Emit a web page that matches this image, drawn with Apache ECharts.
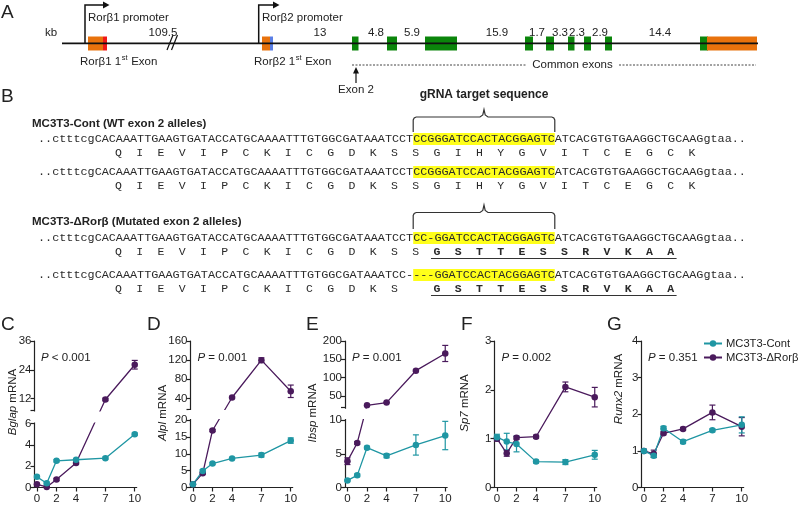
<!DOCTYPE html>
<html><head><meta charset="utf-8">
<script src="https://cdn.jsdelivr.net/npm/echarts@6/dist/echarts.min.js"></script>
<style>html,body{margin:0;padding:0;background:#fff}#c{width:800px;height:506px}</style>
</head><body><div id="c"></div>
<script>
// ---------------- DATA ----------------
const days = [0, 1, 2, 4, 7, 10];
const xTickDays = [0, 2, 4, 7, 10];
const seriesNames = ['MC3T3-Cont', 'MC3T3-ΔRorβ'];

// C  Bglap
const bglapCont = [1.0, 0.4, 2.5, 2.6, 2.75, 5.0];
const bglapContErr = [0.1, 0.1, 0.1, 0.1, 0.1, 0.1];
const bglapKO = [0.3, 0.05, 0.75, 2.3, 11.6, 26.1];
const bglapKOErr = [0.05, 0.05, 0.1, 0.1, 0.5, 1.8];
const bglapLow = [0, 6], bglapHigh = [7, 36];
const bglapLowTicks = [0, 2, 4, 6], bglapHighTicks = [12, 24, 36];
// D  Alpl
const alplCont = [1.0, 4.9, 7.1, 8.6, 9.6, 13.9];
const alplContErr = [0.2, 0.4, 0.3, 0.3, 0.6, 0.8];
const alplKO = [1.0, 4.2, 16.9, 42, 120, 55];
const alplKOErr = [0.2, 0.3, 0.3, 2, 5, 13];
const alplLow = [0, 20], alplHigh = [18, 160];
const alplLowTicks = [0, 5, 10, 15, 20], alplHighTicks = [40, 80, 120, 160];
// E  Ibsp
const ibspCont = [1.05, 1.8, 5.9, 4.7, 6.3, 7.7];
const ibspContErr = [0.1, 0.2, 0.2, 0.3, 1.5, 2.1];
const ibspKO = [3.9, 6.6, 24.5, 32, 119, 166];
const ibspKOErr = [0.5, 0.2, 1, 1, 2, 22];
const ibspLow = [0, 10], ibspHigh = [18, 200];
const ibspLowTicks = [0, 5, 10], ibspHighTicks = [50, 100, 150, 200];
// F  Sp7
const sp7Cont = [1.03, 0.94, 0.89, 0.53, 0.52, 0.67];
const sp7ContErr = [0.06, 0.17, 0.16, 0.03, 0.05, 0.09];
const sp7KO = [1.0, 0.70, 1.02, 1.04, 2.06, 1.85];
const sp7KOErr = [0.05, 0.06, 0.03, 0.03, 0.1, 0.2];
const sp7Range = [0, 3], sp7Ticks = [0, 1, 2, 3];
// G  Runx2
const runx2Cont = [1.0, 0.87, 1.62, 1.25, 1.56, 1.71];
const runx2ContErr = [0.04, 0.05, 0.05, 0.05, 0.04, 0.22];
const runx2KO = [1.0, 0.92, 1.48, 1.6, 2.05, 1.66];
const runx2KOErr = [0.04, 0.1, 0.04, 0.04, 0.2, 0.25];
const runx2Range = [0, 4], runx2Ticks = [0, 1, 2, 3, 4];

const pValues = ['< 0.001', '= 0.001', '= 0.001', '= 0.002', '= 0.351'];
const geneNames = ['Bglap', 'Alpl', 'Ibsp', 'Sp7', 'Runx2'];
const panelLetters = ['C', 'D', 'E', 'F', 'G'];

// Panel B sequences
const seqWT = ['..ctttcgCACAAATTGAAGTGATACCATGCAAAATTTGTGGCGATAAATCCT', 'CCGGGATCCACTACGGAGTC', 'ATCACGTGTGAAGGCTGCAAGgtaa..'];
const seqMut1 = ['..ctttcgCACAAATTGAAGTGATACCATGCAAAATTTGTGGCGATAAATCCT', 'CC-GGATCCACTACGGAGTC', 'ATCACGTGTGAAGGCTGCAAGgtaa..'];
const seqMut2 = ['..ctttcgCACAAATTGAAGTGATACCATGCAAAATTTGTGGCGATAAATCC-', '---GGATCCACTACGGAGTC', 'ATCACGTGTGAAGGCTGCAAGgtaa..'];
const aaWT = 'QIEVIPCKICGDKSSGIHYGVITCEGCK'.split('');
const aaMut1Plain = 'QIEVIPCKICGDKSS'.split('');
const aaMut2Plain = 'QIEVIPCKICGDKS'.split('');
const aaMutBold = 'GSTTESSRVKAA'.split('');

// Panel A distances (kb)
const kbLabels = ['109.5', '13', '4.8', '5.9', '15.9', '1.7', '3.3', '2.3', '2.9', '14.4'];

// ---------------- STYLE / LAYOUT ----------------
const SANS = '"Liberation Sans", Arial, sans-serif';
const MONO = '"Liberation Mono", "Courier New", monospace';
const TXT = '#222';
const AX = '#222';
const CONT = '#1F96A3';
const KO = '#4A1A5C';
const ORANGE = '#E8720C', RED = '#F01818', BLUE = '#5A7FE6', GREEN = '#0B850B';

const ctx = document.createElement('canvas').getContext('2d');
function tw(t, font) { ctx.font = font; return ctx.measureText(t).width; }

const G = [];
function txt(x, y, text, o = {}) {
  G.push({ type: 'text', x, y, z: o.z || 50, rotation: o.rot || 0, silent: true,
    style: { text, fill: o.fill || TXT, fontSize: o.size || 11.5, fontFamily: o.family || SANS,
      fontWeight: o.weight || 'normal', fontStyle: o.style || 'normal',
      textAlign: o.align || 'left', textVerticalAlign: o.va || 'middle', rich: o.rich } });
}
function ln(x1, y1, x2, y2, o = {}) {
  G.push({ type: 'line', z: o.z || 50, silent: true, shape: { x1, y1, x2, y2 },
    style: { stroke: o.stroke || '#111', lineWidth: o.w || 1, lineDash: o.dash || null } });
}
function rc(x, y, w, h, fill, z) {
  G.push({ type: 'rect', z: z || 40, silent: true, shape: { x, y, width: w, height: h }, style: { fill } });
}
function pl(points, o = {}) {
  G.push({ type: 'polyline', z: o.z || 50, silent: true, shape: { points }, style: { stroke: o.stroke || '#111', lineWidth: o.w || 1.2, fill: null } });
}
function pg(points, fill) {
  G.push({ type: 'polygon', z: 50, silent: true, shape: { points }, style: { fill: fill || '#111' } });
}

// ---------------- PANEL A ----------------
txt(1, 13, 'A', { size: 19 });
ln(62, 43.3, 758, 43.3, { w: 1.8 });
ln(167, 50, 173, 35, { w: 1.2 });
ln(171.5, 50, 177.5, 35, { w: 1.2 });
txt(45, 33, 'kb');
rc(88, 36.5, 15, 14, ORANGE); rc(103, 36.5, 4, 14, RED);
rc(262, 36.5, 8, 14, ORANGE); rc(270, 36.5, 3, 14, BLUE);
[[352, 6.5], [387, 10], [425, 32], [525, 8], [546, 8], [568, 6.5], [584, 7], [605, 7], [700, 8]].forEach(e => rc(e[0], 36.5, e[1], 14, GREEN));
rc(707, 36.5, 50, 14, ORANGE);
pl([[85, 43], [85, 5], [104, 5]], { w: 1.5 }); pg([[103, 1.5], [109.5, 5], [103, 8.5]]);
txt(88, 18, 'Rorβ1 promoter');
pl([[258.7, 43], [258.7, 5], [274, 5]], { w: 1.5 }); pg([[273, 1.5], [279.5, 5], [273, 8.5]]);
txt(262, 18, 'Rorβ2 promoter');
[163, 320, 376, 412, 497, 537, 560, 577, 600, 660].forEach((x, i) => txt(x, 33, kbLabels[i], { align: 'center' }));
function exonLabel(x, y, pre) {
  const f = '11.5px ' + SANS;
  txt(x, y, pre);
  const w1 = tw(pre, f);
  txt(x + w1 + 0.5, y - 4, 'st', { size: 7.5 });
  const w2 = tw('st', '7.5px ' + SANS);
  txt(x + w1 + w2 + 1, y, ' Exon');
}
exonLabel(80, 62, 'Rorβ1 1');
exonLabel(254, 62, 'Rorβ2 1');
ln(352, 65, 526, 65, { w: 1, dash: [2, 1.5], stroke: '#444' });
txt(572.5, 65, 'Common exons', { align: 'center' });
ln(619, 65, 756, 65, { w: 1, dash: [2, 1.5], stroke: '#444' });
ln(356, 83, 356, 71, { w: 1.2 }); pg([[353, 73.5], [356, 67], [359, 73.5]]);
txt(356, 90, 'Exon 2', { align: 'center' });

// ---------------- PANEL B ----------------
txt(1, 97, 'B', { size: 19 });
const MONO_SIZE = 11.8;
const monoFont = MONO_SIZE + 'px ' + MONO;
const SEQ_X = 38;
const cw = tw('A', monoFont);
function brace(x1, x2, yPeak, yBar, yEnd) {
  const xc = (x1 + x2) / 2;
  pl([[x1, yEnd], [x1, yBar + 3], [x1 + 1, yBar + 0.9], [x1 + 3, yBar], [xc - 4, yBar], [xc - 1.2, yBar - 2], [xc, yPeak],
      [xc + 1.2, yBar - 2], [xc + 4, yBar], [x2 - 3, yBar], [x2 - 1, yBar + 0.9], [x2, yBar + 3], [x2, yEnd]], { w: 1.2, stroke: '#333' });
}
function seqRow(y, parts) {
  const x1 = SEQ_X + tw(parts[0], monoFont);
  const x2 = x1 + tw(parts[1], monoFont);
  rc(x1, y - 6, x2 - x1, 12, '#FFFF1A', 30);
  txt(SEQ_X, y, parts[0], { family: MONO, size: MONO_SIZE, fill: '#2a2a2a' });
  txt(x1, y, parts[1], { family: MONO, size: MONO_SIZE, fill: '#2a2a2a' });
  txt(x2, y, parts[2], { family: MONO, size: MONO_SIZE, fill: '#2a2a2a' });
  return [x1, x2];
}
function aaX(k) { return SEQ_X + (11.5 + 3 * k) * cw - 1; }
function aaRow(y, letters, startK, bold) {
  letters.forEach((a, i) => txt(aaX(startK + i), y, a, { family: MONO, size: 11.5, align: 'center', fill: '#2a2a2a', weight: bold ? 'bold' : 'normal' }));
}
const hl = seqRow(139, seqWT);
txt((hl[0] + hl[1]) / 2, 95, 'gRNA target sequence', { weight: 'bold', size: 12, align: 'center' });
brace(hl[0], hl[1], 109.5, 117, 132);
txt(32, 124, 'MC3T3-Cont (WT exon 2 alleles)', { weight: 'bold', size: 11.5 });
aaRow(153, aaWT, 0, false);
seqRow(172, seqWT);
aaRow(186, aaWT, 0, false);

txt(32, 222, 'MC3T3-ΔRorβ (Mutated exon 2 alleles)', { weight: 'bold', size: 11.5 });
brace(hl[0], hl[1], 205, 212.5, 229);
seqRow(238, seqMut1);
aaRow(252, aaMut1Plain, 0, false);
aaRow(252, aaMutBold, 15, true);
ln(aaX(15) - 6, 258.5, aaX(26) + 6, 258.5, { w: 1.2, stroke: '#333' });
seqRow(275, seqMut2);
aaRow(289, aaMut2Plain, 0, false);
aaRow(289, aaMutBold, 15, true);
ln(aaX(15) - 6, 295.5, aaX(26) + 6, 295.5, { w: 1.2, stroke: '#333' });

// ---------------- CHARTS C-G ----------------
const PLOT_TOP = 341, PLOT_H = 146.5, PLOT_W = 102.2, X_MIN = -0.25, X_MAX = 10.2;
const panels = [
  { cont: bglapCont, contErr: bglapContErr, ko: bglapKO, koErr: bglapKOErr, low: bglapLow, high: bglapHigh, lowTicks: bglapLowTicks, highTicks: bglapHighTicks },
  { cont: alplCont, contErr: alplContErr, ko: alplKO, koErr: alplKOErr, low: alplLow, high: alplHigh, lowTicks: alplLowTicks, highTicks: alplHighTicks },
  { cont: ibspCont, contErr: ibspContErr, ko: ibspKO, koErr: ibspKOErr, low: ibspLow, high: ibspHigh, lowTicks: ibspLowTicks, highTicks: ibspHighTicks },
  { cont: sp7Cont, contErr: sp7ContErr, ko: sp7KO, koErr: sp7KOErr, low: sp7Range, high: null, lowTicks: sp7Ticks, highTicks: [] },
  { cont: runx2Cont, contErr: runx2ContErr, ko: runx2KO, koErr: runx2KOErr, low: runx2Range, high: null, lowTicks: runx2Ticks, highTicks: [] }
];
const geom = [
  { left: 34.5, loH: 64, gapH: 13, hiH: 69.5, letterX: 1, nameX: 13, nameY: 402, pX: 41 },
  { left: 190.5, loH: 67.5, gapH: 11, hiH: 68, letterX: 147, nameX: 163, nameY: 413, pX: 197.5 },
  { left: 345, loH: 67.5, gapH: 12.3, hiH: 66.7, letterX: 306, nameX: 313, nameY: 413, pX: 352 },
  { left: 494.5, loH: 146.5, gapH: 0, hiH: 0, letterX: 461, nameX: 465, nameY: 403, pX: 501.5 },
  { left: 641.5, loH: 146.5, gapH: 0, hiH: 0, letterX: 607, nameX: 619, nameY: 389, pX: 648 }
];
function makeMap(p, g) {
  return v => {
    if (!p.high || v <= p.low[1]) return (v - p.low[0]) / (p.low[1] - p.low[0]) * g.loH;
    return g.loH + g.gapH + (v - p.high[0]) / (p.high[1] - p.high[0]) * g.hiH;
  };
}
function errRender(color) {
  return (params, api) => {
    const x = api.value(0);
    const a = api.coord([x, api.value(1)]), b = api.coord([x, api.value(2)]);
    const c = 3;
    const st = { stroke: color, lineWidth: 1.2 };
    return { type: 'group', children: [
      { type: 'line', shape: { x1: a[0], y1: a[1], x2: b[0], y2: b[1] }, style: st },
      { type: 'line', shape: { x1: a[0] - c, y1: a[1], x2: a[0] + c, y2: a[1] }, style: st },
      { type: 'line', shape: { x1: b[0] - c, y1: b[1], x2: b[0] + c, y2: b[1] }, style: st }
    ] };
  };
}
const grids = [], xAxes = [], yAxes = [], series = [];
panels.forEach((p, i) => {
  const g = geom[i];
  const f = makeMap(p, g);
  grids.push({ left: g.left, top: PLOT_TOP, width: PLOT_W, height: PLOT_H });
  xAxes.push({ gridIndex: i, type: 'value', min: X_MIN, max: X_MAX,
    axisLine: { show: true, onZero: false, lineStyle: { color: AX, width: 1.2 } },
    axisTick: { show: true, length: 4, customValues: xTickDays, lineStyle: { color: AX, width: 1.2 } },
    axisLabel: { show: true, customValues: xTickDays, fontSize: 11.5, fontFamily: SANS, color: TXT, margin: 5 },
    splitLine: { show: false } });
  const labelMap = new Map();
  const labelVals = [];
  p.lowTicks.concat(p.highTicks).forEach(v => { const d = f(v); labelVals.push(d); labelMap.set(d.toFixed(2), String(v)); });
  const tickVals = labelVals.slice();
  if (p.high) tickVals.push(g.loH + g.gapH);
  yAxes.push({ gridIndex: i, type: 'value', min: 0, max: g.loH + g.gapH + g.hiH,
    axisLine: { show: true, onZero: false, lineStyle: { color: AX, width: 1.2 } },
    axisTick: { show: true, length: 4, customValues: tickVals, lineStyle: { color: AX, width: 1.2 } },
    axisLabel: { show: true, customValues: labelVals, formatter: v => labelMap.get(v.toFixed(2)) || '', fontSize: 11.5, fontFamily: SANS, color: TXT, margin: 3 },
    splitLine: { show: false } });
  [[p.ko, p.koErr, KO, 1], [p.cont, p.contErr, CONT, 0]].forEach(([vals, errs, color, ni]) => {
    series.push({ type: 'custom', name: 'err', xAxisIndex: i, yAxisIndex: i, z: 3, silent: true, clip: false,
      renderItem: errRender(color), encode: { x: 0, y: [1, 2] },
      data: days.map((d, j) => [d, f(vals[j] - errs[j]), f(vals[j] + errs[j])]) });
    series.push({ type: 'line', name: seriesNames[ni], xAxisIndex: i, yAxisIndex: i, z: 4, clip: false,
      data: days.map((d, j) => [d, f(vals[j])]), symbol: 'circle', symbolSize: 6.5, showSymbol: true,
      lineStyle: { color, width: 1.3 }, itemStyle: { color }, emphasis: { disabled: true } });
  });
  if (p.high) G.push({ type: 'rect', z: 100, silent: true, shape: { x: g.left - 2, y: PLOT_TOP + g.hiH + 1, width: PLOT_W + 4, height: g.gapH - 2 }, style: { fill: '#fff' } });
  txt(g.letterX, 325, panelLetters[i], { size: 19 });
  txt(g.nameX, g.nameY, '{i|' + geneNames[i] + '} mRNA', { rot: Math.PI / 2, align: 'center', size: 11.5, rich: { i: { fontStyle: 'italic', fontSize: 11.5, fontFamily: SANS, fill: TXT } } });
  txt(g.pX, 358, '{i|P} ' + pValues[i], { size: 11.5, rich: { i: { fontStyle: 'italic', fontSize: 11.5, fontFamily: SANS, fill: TXT } } });
});

const chart = echarts.init(document.getElementById('c'), null, { renderer: 'canvas' });
chart.setOption({
  backgroundColor: '#fff',
  animation: false,
  grid: grids, xAxis: xAxes, yAxis: yAxes, series,
  legend: { data: seriesNames, orient: 'vertical', left: 703, top: 338, itemWidth: 18, itemHeight: 8, itemGap: 3, padding: 0,
    textStyle: { fontSize: 11.2, fontFamily: SANS, color: TXT, padding: [0, 0, 0, -1] }, selectedMode: false },
  graphic: { elements: G }
});
</script></body></html>
